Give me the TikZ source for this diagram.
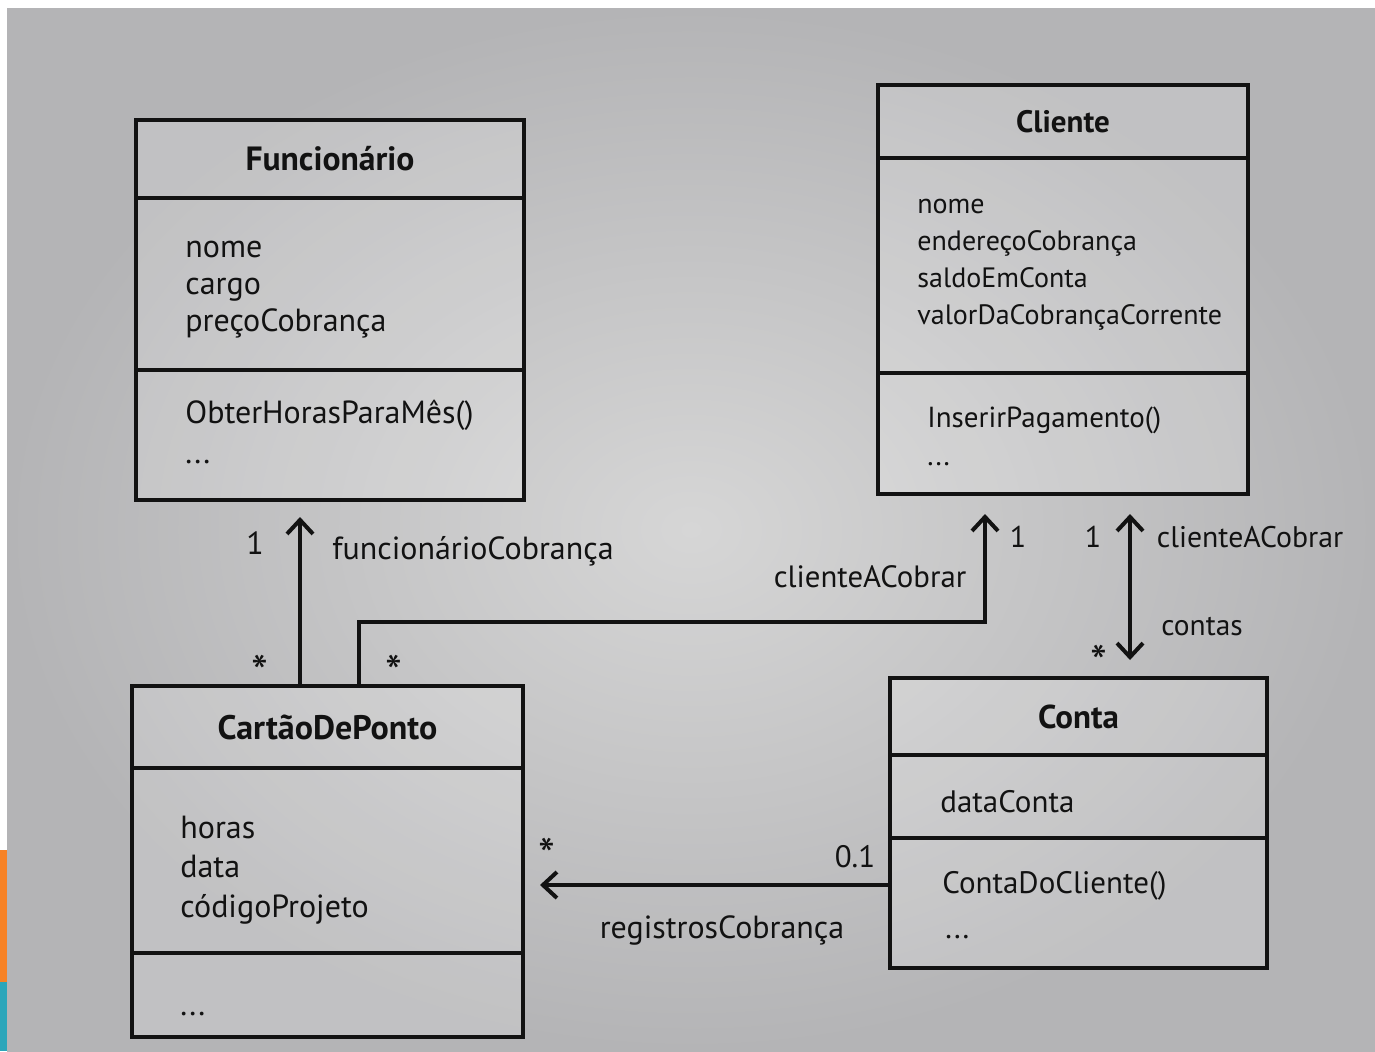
\documentclass[tikz,border=0pt]{standalone}
\usepackage{fontspec}
\setmainfont{PT Sans}
\usetikzlibrary{positioning,arrows.meta}

\definecolor{papelclaro}{RGB}{214,214,214}
\definecolor{papelescuro}{RGB}{180,180,182}
\definecolor{tinta}{RGB}{18,18,18}
\definecolor{laranja}{RGB}{246,130,38}
\definecolor{turquesa}{RGB}{44,166,186}

\newcommand{\reticencias}{...}

\tikzset{
  seta/.tip={Straight Barb[length=7pt,width=13pt]},
  comp/.style={draw=tinta, fill=white, fill opacity=0.18, draw opacity=1, text opacity=1,
    line width=2.2pt, outer sep=0pt, inner sep=0pt},
  titulo/.style={font=\fontsize{#1}{#1}\selectfont\bfseries, text=tinta},
  titulo/.default=16.8,
  membro/.style={font=\fontsize{#1}{#1}\selectfont, text=tinta, inner sep=0pt, anchor=base west},
  membro/.default=16,
  rotulo/.style={font=\fontsize{#1}{#1}\selectfont, text=tinta, inner sep=0pt},
  rotulo/.default=16,
  estrela/.style={font=\fontsize{24}{24}\selectfont, text=tinta, inner sep=0pt},
  assoc/.style={draw=tinta, line width=2pt, -seta},
  assocdupla/.style={draw=tinta, line width=2pt, seta-seta},
}

\begin{document}
\begin{tikzpicture}[x=0.5pt,y=-0.5pt]
    \useasboundingbox (0,0) rectangle (1375,1051);
    \fill[white] (0,0) rectangle (1375,1051);
    \shade[inner color=papelclaro, outer color=papelescuro] (7,8) rectangle (1375,1051);
    \fill[laranja] (0,850) rectangle (7,982);
    \fill[turquesa] (0,982) rectangle (7,1051);

    % Funcionario
    \node[comp, titulo, minimum width=194pt, minimum height=39pt, anchor=north west] (funcTit) at (136,120) {Funcionário};
    \node[comp, minimum width=194pt, minimum height=86pt, below=0pt of funcTit] (funcAtr) {};
    \node[comp, minimum width=194pt, minimum height=65pt, below=0pt of funcAtr] (funcMet) {};
    \foreach \m [count=\i] in {nome, cargo, preçoCobrança}
        \node[membro] (funcA\i) at (185, {257+37*(\i-1)}) {\m};
    \node[membro] (funcM1) at (185,423) {ObterHorasParaMês()};
    \node[membro] (funcM2) at (185,463) {\reticencias};

    % Cliente
    \node[comp, titulo=15.5, minimum width=185pt, minimum height=36.5pt, anchor=north west] (cliTit) at (878,85) {Cliente};
    \node[comp, minimum width=185pt, minimum height=107.5pt, below=0pt of cliTit] (cliAtr) {};
    \node[comp, minimum width=185pt, minimum height=60.5pt, below=0pt of cliAtr] (cliMet) {};
    \foreach \m [count=\i] in {nome, endereçoCobrança, saldoEmConta, valorDaCobrançaCorrente}
        \node[membro=14] (cliA\i) at (917, {213+37.3*(\i-1)}) {\m};
    \node[membro=14.5] (cliM1) at (927,427) {InserirPagamento()};
    \node[membro=14.5] (cliM2) at (927,465) {\reticencias};

    % CartaoDePonto
    \node[comp, titulo=17, minimum width=195.5pt, minimum height=41pt, anchor=north west] (cartTit) at (132,686) {CartãoDePonto};
    \node[comp, minimum width=195.5pt, minimum height=92.5pt, below=0pt of cartTit] (cartAtr) {};
    \node[comp, minimum width=195.5pt, minimum height=42pt, below=0pt of cartAtr] (cartMet) {};
    \foreach \m [count=\i] in {horas, data, códigoProjeto}
        \node[membro] (cartA\i) at (180, {838+39.5*(\i-1)}) {\m};
    \node[membro] (cartM1) at (180,1015) {\reticencias};

    % Conta
    \node[comp, titulo=16.5, minimum width=188.5pt, minimum height=38.5pt, anchor=north west] (contaTit) at (890,678) {Conta};
    \node[comp, minimum width=188.5pt, minimum height=41.5pt, below=0pt of contaTit] (contaAtr) {};
    \node[comp, minimum width=188.5pt, minimum height=65pt, below=0pt of contaAtr] (contaMet) {};
    \node[membro=15.5] (contaA1) at (940,812) {dataConta};
    \node[membro=15.5] (contaM1) at (942,893) {ContaDoCliente()};
    \node[membro=15.5] (contaM2) at (945,938) {\reticencias};

    % associacoes
    \coordinate (pe1) at ([xshift=84pt]cartTit.north west);
    \coordinate (pe2) at ([xshift=113.5pt]cartTit.north west);
    \coordinate (topo2) at ([xshift=53.5pt]cliMet.south west);
    \coordinate (topo3) at ([xshift=126pt]cliMet.south west);
    \coordinate (pe4) at ([yshift=-23.5pt]contaMet.north west);

    \draw[assoc, shorten >=8.5pt] (pe1) -- (pe1 |- funcMet.south);
    \draw[assoc, shorten >=10pt] (pe2) -- (pe2 |- 0,622) -| (topo2);
    \draw[assocdupla, shorten <=10pt, shorten >=9pt] (topo3) -- (topo3 |- contaTit.north);
    \draw[assoc, shorten >=8.5pt] (pe4) -- (pe4 -| cartAtr.east);

    % rotulos
    \node[rotulo] (m1) at (255,543) {1};
    \node[rotulo] (papelFunc) at (473,551) {funcionárioCobrança};
    \node[estrela] (m2) at (260,672) {*};
    \node[estrela] (m3) at (394,672) {*};
    \node[rotulo=15.4] (papelCli1) at (870,577) {clienteACobrar};
    \node[rotulo=15] (m4) at (1018,537) {1};
    \node[rotulo=15] (m5) at (1093,537) {1};
    \node[rotulo=14.9] (papelCli2) at (1250,537) {clienteACobrar};
    \node[rotulo=14.7] (papelContas) at (1202,627) {contas};
    \node[estrela] (m6) at (1099,662) {*};
    \node[estrela] (m7) at (547,855) {*};
    \node[rotulo=15.5] (m8) at (855,857) {0.1};
    \node[rotulo] (papelReg) at (722,930) {registrosCobrança};
\end{tikzpicture}
\end{document}
